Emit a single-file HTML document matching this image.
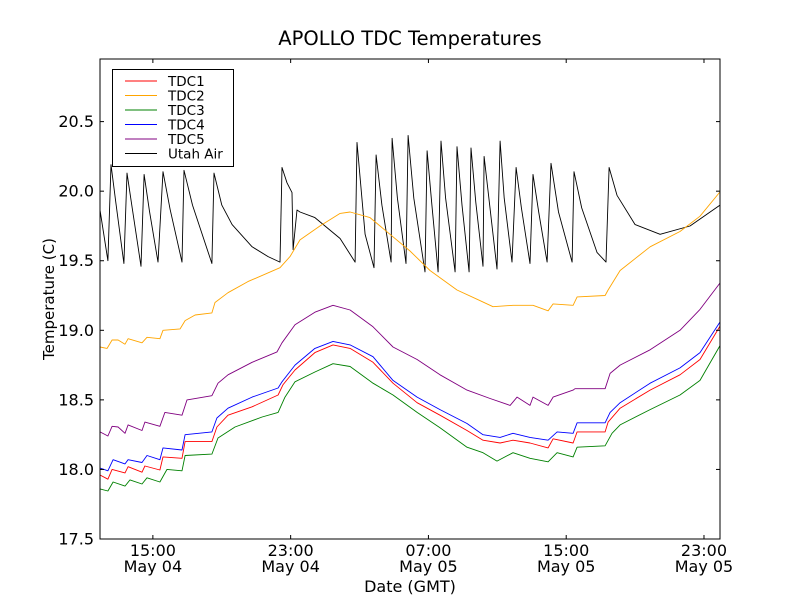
<!DOCTYPE html>
<html><head><meta charset="utf-8">
<style>
body{margin:0;background:#fff;}
svg text{font-family:"DejaVu Sans","Liberation Sans",sans-serif;}
</style></head>
<body>
<svg id="chart" width="800" height="600" viewBox="0 0 800 600" xmlns="http://www.w3.org/2000/svg">
<rect width="800" height="600" fill="#fff"/>
<g id="plot"></g>
<g id="axes"></g>
<text x="410" y="45" font-size="19.5" text-anchor="middle">APOLLO TDC Temperatures</text>
<text x="410" y="592" font-size="16" text-anchor="middle">Date (GMT)</text>
<text x="0" y="0" font-size="15" text-anchor="middle" transform="translate(54,299) rotate(-90)">Temperature (C)</text>
<g id="legend"></g>
</svg>
<script>
// Hours since May 04 00:00 GMT
const xTickHours = [15, 23, 31, 39, 47];
const xTickTimes = ["15:00", "23:00", "07:00", "15:00", "23:00"];
const xTickDates = ["May 04", "May 04", "May 05", "May 05", "May 05"];
const yTicks = [17.5, 18.0, 18.5, 19.0, 19.5, 20.0, 20.5];
const seriesNames = ["TDC1", "TDC2", "TDC3", "TDC4", "TDC5", "Utah Air"];

const tdc2Times = [11.93,12.34,12.63,12.98,13.38,13.56,14.37,14.66,15.41,15.59,16.58,16.87,17.45,18.43,18.61,19.36,20.52,22.38,22.96,23.54,24.70,25.87,26.45,27.61,28.77,29.93,31.09,32.66,33.88,34.75,35.91,37.07,37.95,38.24,39.40,39.63,41.26,41.43,42.13,43.87,45.61,46.77,47.93];
const tdc2Values = [18.88,18.87,18.93,18.93,18.90,18.94,18.91,18.95,18.94,19.00,19.01,19.07,19.11,19.125,19.20,19.27,19.35,19.45,19.53,19.65,19.75,19.84,19.85,19.81,19.69,19.57,19.43,19.29,19.22,19.17,19.18,19.18,19.14,19.19,19.18,19.24,19.25,19.29,19.43,19.60,19.71,19.82,19.995];

const tdc5Times = [11.93,12.39,12.63,12.98,13.38,13.56,14.37,14.54,15.41,15.70,16.69,16.98,18.43,18.78,19.36,20.76,22.21,22.50,23.25,24.41,25.46,26.45,27.78,28.94,30.34,31.67,33.24,34.58,35.74,36.15,36.90,37.07,37.95,38.24,39.40,39.51,41.26,41.55,42.13,43.87,45.61,46.77,47.93];
const tdc5Values = [18.27,18.24,18.31,18.305,18.26,18.32,18.28,18.34,18.31,18.41,18.39,18.50,18.53,18.62,18.68,18.77,18.845,18.91,19.04,19.13,19.18,19.146,19.025,18.88,18.79,18.68,18.57,18.51,18.46,18.52,18.46,18.52,18.46,18.52,18.57,18.58,18.58,18.69,18.75,18.86,19.00,19.15,19.34];

const tdc4Times = [11.93,12.39,12.69,13.38,13.56,14.37,14.66,15.41,15.59,16.69,16.87,18.43,18.72,19.36,20.76,22.27,22.50,23.25,24.41,25.46,26.45,27.78,28.94,30.34,31.67,33.24,34.17,35.16,35.91,36.90,37.95,38.47,39.40,39.63,41.26,41.55,42.13,43.87,45.61,46.77,47.93];
const tdc4Values = [18.01,17.99,18.07,18.04,18.07,18.05,18.10,18.07,18.155,18.14,18.25,18.27,18.37,18.44,18.52,18.585,18.63,18.75,18.87,18.92,18.895,18.81,18.64,18.52,18.43,18.33,18.25,18.23,18.26,18.23,18.21,18.27,18.26,18.335,18.335,18.41,18.48,18.62,18.73,18.84,19.06];

const tdc1Times = [11.93,12.39,12.63,13.38,13.56,14.37,14.54,15.41,15.59,16.69,16.87,18.43,18.72,19.36,20.76,22.27,22.56,23.25,24.41,25.46,26.45,27.78,28.94,30.34,31.67,33.24,34.17,35.16,35.91,36.90,37.95,38.24,39.40,39.63,41.26,41.43,42.13,43.87,45.61,46.77,47.93];
const tdc1Values = [17.96,17.93,18.00,17.975,18.02,17.98,18.025,17.996,18.09,18.08,18.20,18.20,18.305,18.39,18.45,18.535,18.61,18.715,18.84,18.895,18.87,18.77,18.62,18.48,18.39,18.28,18.21,18.19,18.21,18.19,18.155,18.22,18.19,18.27,18.27,18.34,18.44,18.57,18.68,18.79,19.03];

const tdc3Times = [11.93,12.39,12.69,13.38,13.67,14.37,14.66,15.41,15.82,16.69,16.87,18.43,18.78,19.77,21.34,22.27,22.67,23.25,24.41,25.46,26.45,27.78,28.94,30.34,31.67,33.24,34.17,34.98,35.91,36.90,37.95,38.47,39.40,39.63,41.26,41.66,42.13,43.87,45.61,46.77,47.93];
const tdc3Values = [17.86,17.845,17.91,17.88,17.925,17.895,17.94,17.91,18.00,17.99,18.10,18.11,18.226,18.305,18.377,18.41,18.52,18.63,18.70,18.76,18.74,18.62,18.535,18.41,18.30,18.16,18.12,18.06,18.12,18.08,18.055,18.12,18.09,18.16,18.17,18.26,18.32,18.43,18.535,18.64,18.89];

const airTimes = [11.93,12.39,12.57,12.85,13.32,13.50,13.80,14.31,14.49,14.80,15.30,15.59,16.00,16.69,16.81,17.30,18.43,18.55,19.00,19.60,20.76,21.69,22.38,22.50,22.79,23.08,23.14,23.37,23.54,24.41,25.87,26.74,26.85,27.32,27.84,27.96,28.30,28.83,28.89,29.20,29.70,29.82,30.15,30.80,30.92,31.20,31.56,31.73,32.00,32.55,32.66,32.95,33.36,33.47,33.75,34.17,34.23,34.98,35.16,35.40,35.85,36.09,36.40,36.90,37.07,37.40,37.89,38.12,38.55,39.34,39.45,39.90,40.79,41.31,41.49,41.95,43.00,44.45,46.19,47.93];
const airValues = [19.865,19.50,20.19,19.92,19.48,20.13,19.88,19.46,20.12,19.86,19.49,20.14,19.87,19.49,20.15,19.90,19.48,20.13,19.90,19.76,19.60,19.53,19.49,20.17,20.06,19.99,19.58,19.865,19.85,19.81,19.66,19.49,20.35,19.69,19.45,20.26,19.90,19.49,20.38,19.95,19.48,20.40,19.95,19.42,20.29,19.90,19.42,20.36,19.95,19.42,20.32,19.90,19.42,20.31,19.92,19.46,20.25,19.44,20.36,19.95,19.49,20.17,19.88,19.48,20.12,19.85,19.49,20.20,19.85,19.49,20.14,19.88,19.56,19.49,20.17,19.97,19.76,19.69,19.75,19.90];

const NS = "http://www.w3.org/2000/svg";
const L = 100, R = 720, T = 59, B = 539;
const X0 = 11.93, X1 = 47.93, Y0 = 17.5, Y1 = 20.95;
function xs(t){ return L + (t - X0) / (X1 - X0) * (R - L); }
function ys(v){ return B - (v - Y0) / (Y1 - Y0) * (B - T); }
function mk(tag, attrs, parent){ const e = document.createElementNS(NS, tag); for (const k in attrs) e.setAttribute(k, attrs[k]); parent.appendChild(e); return e; }

const plot = document.getElementById('plot');
const axes = document.getElementById('axes');
const legend = document.getElementById('legend');

const seriesList = [
  {name: "TDC1", t: tdc1Times, v: tdc1Values, c: "#ff0000", key: "tdc1-line"},
  {name: "TDC2", t: tdc2Times, v: tdc2Values, c: "#ffa500", key: "tdc2-line"},
  {name: "TDC3", t: tdc3Times, v: tdc3Values, c: "#008000", key: "tdc3-line"},
  {name: "TDC4", t: tdc4Times, v: tdc4Values, c: "#0000ff", key: "tdc4-line"},
  {name: "TDC5", t: tdc5Times, v: tdc5Values, c: "#800080", key: "tdc5-line"},
  {name: "Utah Air", t: airTimes, v: airValues, c: "#000000", key: "utah-air-line"}
];
[5,0,1,2,3,4].forEach(i => {
  const s = seriesList[i];
  const d = s.t.map((t, j) => (j ? 'L' : 'M') + xs(t).toFixed(1) + ' ' + ys(s.v[j]).toFixed(1)).join(' ');
  const p = mk('path', {d: d, fill: 'none', stroke: s.c, 'stroke-width': 0.9, 'stroke-linejoin': 'round'}, plot);
  
  
});

const frame = mk('rect', {x: L, y: T, width: R - L, height: B - T, fill: 'none', stroke: '#000', 'stroke-width': 1}, axes);



yTicks.forEach(v => {
  const y = ys(v);
  const t1 = mk('line', {x1: L, x2: L + 4, y1: y, y2: y, stroke: '#000', 'stroke-width': 1}, axes);
  
  
  const t2 = mk('line', {x1: R - 4, x2: R, y1: y, y2: y, stroke: '#000', 'stroke-width': 1}, axes);
  
  
  const lb = mk('text', {x: L - 6, y: y + 5.5, 'font-size': 16, 'text-anchor': 'end'}, axes);
  lb.textContent = v.toFixed(1);
  
  
});
xTickHours.forEach((h, i) => {
  const x = xs(h);
  const t1 = mk('line', {x1: x, x2: x, y1: B, y2: B - 4, stroke: '#000', 'stroke-width': 1}, axes);
  
  
  const t2 = mk('line', {x1: x, x2: x, y1: T, y2: T + 4, stroke: '#000', 'stroke-width': 1}, axes);
  
  
  const a = mk('text', {x: x, y: B + 17, 'font-size': 16, 'text-anchor': 'middle'}, axes);
  a.textContent = xTickTimes[i];
  
  
  const b = mk('text', {x: x, y: B + 33, 'font-size': 16, 'text-anchor': 'middle'}, axes);
  b.textContent = xTickDates[i];
  
  
});

const lbox = mk('rect', {x: 112.5, y: 69.5, width: 121, height: 97, fill: '#fff', stroke: '#000', 'stroke-width': 1}, legend);


seriesList.forEach((s, i) => {
  const y = 81 + i * 14.5;
  const ln = mk('line', {x1: 125, x2: 157, y1: y, y2: y, stroke: s.c, 'stroke-width': 1}, legend);
  
  
  const tx = mk('text', {x: 168, y: y + 5, 'font-size': 13.5}, legend);
  tx.textContent = seriesNames[i];
  
  
});
</script>
</body></html>
